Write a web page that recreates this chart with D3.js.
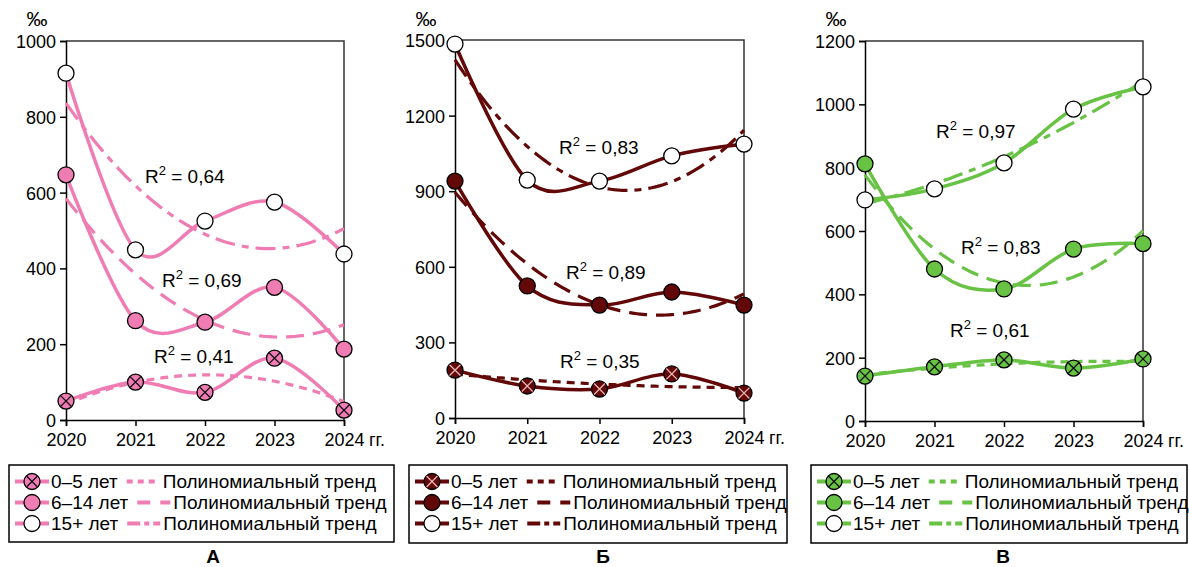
<!DOCTYPE html>
<html><head><meta charset="utf-8">
<script src="https://cdn.jsdelivr.net/npm/d3@7"></script>
<style>
html,body{margin:0;padding:0;background:#fff;}
svg{display:block;font-family:"Liberation Sans",Arial,sans-serif;}
</style></head>
<body>
<svg id="chart" width="1189" height="567"></svg>
<script>
// ---------- DATA ----------
const years = ["2020", "2021", "2022", "2023", "2024"];
const yearSuffix = "гг.";
const seriesNames = ["0–5 лет", "6–14 лет", "15+ лет"];
const trendName = "Полиномиальный тренд";
const unitLabel = "‰";
const panelLetters = ["А", "Б", "В"];

// Panel А
const a_0_5 = [50, 100, 73, 163, 26];
const a_6_14 = [647, 262, 258, 350, 187];
const a_15 = [915, 449, 525, 575, 438];
const a_r2 = ["0,41", "0,69", "0,64"];
const a_ticks = [0, 200, 400, 600, 800, 1000];

// Panel Б
const b_0_5 = [190, 127, 115, 175, 99];
const b_6_14 = [940, 524, 448, 500, 448];
const b_15 = [1484, 944, 940, 1040, 1087];
const b_r2 = ["0,35", "0,89", "0,83"];
const b_ticks = [0, 300, 600, 900, 1200, 1500];

// Panel В
const c_0_5 = [142, 171, 193, 167, 196];
const c_6_14 = [812, 480, 417, 543, 560];
const c_15 = [698, 733, 815, 985, 1055];
const c_r2 = ["0,61", "0,83", "0,97"];
const c_ticks = [0, 200, 400, 600, 800, 1000, 1200];

// ---------- LAYOUT / STYLE ----------
const panels = [
  { color: "#f07cb4", cross: "#111", series: [a_0_5, a_6_14, a_15], r2: a_r2, ticks: a_ticks,
    x0: 66, x1: 344, yTop: 41, yBot: 420,
    r2pos: [[154, 363], [162, 287], [145, 183]],
    legend: { x: 9, y: 465, w: 385, h: 77 }, letterX: 213 },
  { color: "#620808", cross: "#e8b4b4", series: [b_0_5, b_6_14, b_15], r2: b_r2, ticks: b_ticks,
    x0: 455, x1: 744, yTop: 40, yBot: 418,
    r2pos: [[560, 368], [566, 279], [559, 154]],
    legend: { x: 409, y: 465, w: 378, h: 78 }, letterX: 603 },
  { color: "#68c244", cross: "#111", series: [c_0_5, c_6_14, c_15], r2: c_r2, ticks: c_ticks,
    x0: 865, x1: 1143, yTop: 41, yBot: 421,
    r2pos: [[950, 337], [961, 254], [936, 138]],
    legend: { x: 811, y: 465, w: 376, h: 78 }, letterX: 1003 }
];
const dashes = ["8,6", "18,9", "20,7,7,7"];
const legendDashes = ["6,5", "13,10", "13,4,5,4"];
const FS = 18;
const FSL = 19;
const R = 8;

const svg = d3.select("#chart");

function quadFit(vals) {
  // least squares quadratic on x = 0..n-1
  const n = vals.length;
  const xs = d3.range(n);
  let S = [[0,0,0],[0,0,0],[0,0,0]], T = [0,0,0];
  xs.forEach((x, i) => {
    const p = [1, x, x * x];
    for (let r = 0; r < 3; r++) { T[r] += p[r] * vals[i]; for (let c = 0; c < 3; c++) S[r][c] += p[r] * p[c]; }
  });
  const M = S.map((row, i) => row.concat([T[i]]));
  for (let i = 0; i < 3; i++) {
    for (let k = i + 1; k < 3; k++) {
      const f = M[k][i] / M[i][i];
      for (let j = i; j < 4; j++) M[k][j] -= f * M[i][j];
    }
  }
  const co = [0, 0, 0];
  for (let i = 2; i >= 0; i--) {
    let s = M[i][3];
    for (let j = i + 1; j < 3; j++) s -= M[i][j] * co[j];
    co[i] = s / M[i][i];
  }
  return x => co[0] + co[1] * x + co[2] * x * x;
}

function drawMarker(g, x, y, kind, color, cross) {
  const fill = kind === 2 ? "#fff" : color;
  g.append("circle").attr("cx", x).attr("cy", y).attr("r", R)
    .attr("fill", fill).attr("stroke", "#000").attr("stroke-width", 1.3);
  if (kind === 0) {
    const d = R * 0.68;
    g.append("path")
      .attr("d", `M${x - d},${y - d}L${x + d},${y + d}M${x - d},${y + d}L${x + d},${y - d}`)
      .attr("stroke", cross).attr("stroke-width", 1.3).attr("fill", "none");
  }
}

panels.forEach((p, pi) => {
  const g = svg.append("g");
  const yMax = d3.max(p.ticks);
  const x = d3.scalePoint().domain(years).range([p.x0, p.x1]).padding(0);
  const xi = d3.scaleLinear().domain([0, years.length - 1]).range([p.x0, p.x1]);
  const y = d3.scaleLinear().domain([0, yMax]).range([p.yBot, p.yTop]);

  // frame (top + right)
  g.append("path")
    .attr("d", `M${p.x0},${p.yTop}H${p.x1}V${p.yBot}`)
    .attr("fill", "none").attr("stroke", "#333").attr("stroke-width", 1.5);

  // y axis
  const ya = g.append("g").attr("transform", `translate(${p.x0},0)`)
    .call(d3.axisLeft(y).tickValues(p.ticks).tickSize(6).tickPadding(4).tickFormat(d3.format("d")));
  ya.attr("font-size", FS).attr("font-family", "Liberation Sans, Arial, sans-serif");
  ya.select(".domain").attr("stroke", "#000").attr("stroke-width", 1.5);
  ya.selectAll(".tick line").attr("stroke", "#000").attr("stroke-width", 1.5);
  ya.selectAll("text").attr("fill", "#000").attr("dy", "0.36em");

  // x axis
  const xa = g.append("g").attr("transform", `translate(0,${p.yBot})`)
    .call(d3.axisBottom(x).tickSize(6).tickPadding(7));
  xa.attr("font-size", FS).attr("font-family", "Liberation Sans, Arial, sans-serif");
  xa.select(".domain").attr("stroke", "#000").attr("stroke-width", 1.5);
  xa.selectAll(".tick line").attr("stroke", "#000").attr("stroke-width", 1.5);
  xa.selectAll("text").attr("fill", "#000");
  g.append("text").attr("x", p.x1 + 25).attr("y", p.yBot + 26)
    .attr("font-size", FS).text(yearSuffix);

  // unit label
  g.append("text").attr("x", p.x0 - 29).attr("y", 26).attr("text-anchor", "middle")
    .attr("font-size", 21).text(unitLabel);

  // data lines
  const line = d3.line().x((d, i) => x(years[i])).y(d => y(d)).curve(d3.curveCardinal.tension(0));
  p.series.forEach(s => {
    g.append("path").attr("d", line(s)).attr("fill", "none")
      .attr("stroke", p.color).attr("stroke-width", 3.5);
  });

  // trend lines (quadratic least squares)
  p.series.forEach((s, si) => {
    const f = quadFit(s);
    const pts = d3.range(0, 4.0001, 0.04);
    const tl = d3.line().x(t => xi(t)).y(t => y(f(t)));
    g.append("path").attr("d", tl(pts)).attr("fill", "none")
      .attr("stroke", p.color).attr("stroke-width", 3.2)
      .attr("stroke-dasharray", dashes[si]);
  });

  // markers
  p.series.forEach((s, si) => {
    s.forEach((v, i) => drawMarker(g, x(years[i]), y(v), si, p.color, p.cross));
  });

  // R2 labels
  p.r2.forEach((r, i) => {
    const t = g.append("text").attr("x", p.r2pos[i][0]).attr("y", p.r2pos[i][1]).attr("font-size", FSL);
    t.append("tspan").text("R");
    t.append("tspan").attr("dy", -8).attr("font-size", 13).text("2");
    t.append("tspan").attr("dy", 8).text(" = " + r);
  });

  // legend
  const L = p.legend;
  const lg = g.append("g");
  lg.append("rect").attr("x", L.x).attr("y", L.y).attr("width", L.w).attr("height", L.h)
    .attr("fill", "#fff").attr("stroke", "#000").attr("stroke-width", 1.5);
  const rowBase = [488, 509, 530];
  seriesNames.forEach((name, si) => {
    const cy = rowBase[si] - 6.5;
    lg.append("line").attr("x1", L.x + 6).attr("x2", L.x + 40).attr("y1", cy).attr("y2", cy)
      .attr("stroke", p.color).attr("stroke-width", 4);
    drawMarker(lg, L.x + 23, cy, si, p.color, p.cross);
    const tx = lg.append("text").attr("x", L.x + 42).attr("y", rowBase[si]).attr("font-size", FSL).text(name);
    const w = tx.node().getComputedTextLength();
    const sx = L.x + 42 + w + 9;
    lg.append("line").attr("x1", sx).attr("x2", sx + 33).attr("y1", cy).attr("y2", cy)
      .attr("stroke", p.color).attr("stroke-width", 4).attr("stroke-dasharray", legendDashes[si]);
    lg.append("text").attr("x", sx + 36).attr("y", rowBase[si]).attr("font-size", FSL).text(trendName);
  });

  // panel letter
  g.append("text").attr("x", p.letterX).attr("y", 563).attr("text-anchor", "middle")
    .attr("font-size", FSL).attr("font-weight", "bold").text(panelLetters[pi]);
});
</script>
</body></html>
